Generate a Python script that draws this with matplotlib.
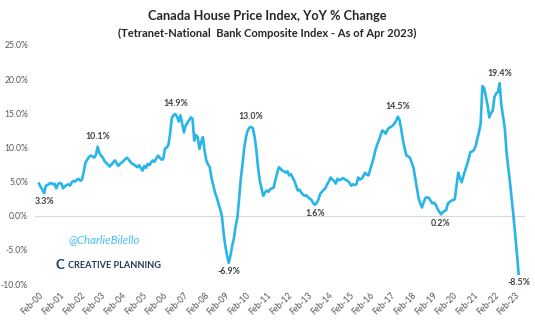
import matplotlib
matplotlib.use("Agg")
import matplotlib.pyplot as plt
import numpy as np

plt.rcParams['font.family'] = ['Lato', 'DejaVu Sans']

# Monthly YoY % change, Feb-2000 .. Apr-2023
yoy = [
    4.7, 4.2, 3.8, 3.3, 4.4, 4.5, 4.7, 4.8, 4.6, 4.7, 4.0, 4.6,          # Feb-00..Jan-01
    4.8, 4.7, 4.0, 4.3, 4.5, 4.6, 4.4, 4.9, 5.1, 5.0, 5.3, 5.4,          # Feb-01..
    5.1, 5.3, 6.5, 7.8, 8.2, 8.6, 8.8, 8.7, 8.5, 8.9, 10.1, 9.2,         # Feb-02..
    8.8, 8.5, 8.0, 7.7, 7.5, 7.2, 7.5, 7.8, 8.1, 7.7, 7.3, 7.6,          # Feb-03..
    7.8, 8.0, 8.3, 8.5, 8.2, 7.9, 7.6, 7.5, 7.3, 7.1, 7.4, 7.0,          # Feb-04..
    6.6, 7.3, 7.0, 7.6, 7.4, 7.8, 8.1, 7.9, 8.4, 8.8, 8.5, 8.2,          # Feb-05..
    8.3, 9.8, 10.0, 10.3, 12.0, 14.3, 14.7, 14.9, 14.5, 13.8, 14.7, 13.5,  # Feb-06..
    12.2, 13.2, 13.6, 14.0, 14.4, 14.2, 11.0, 11.8, 11.5, 9.8, 10.8, 11.5,  # Feb-07..
    9.5, 8.1, 7.5, 7.1, 5.5, 4.5, 3.4, 2.7, 1.8, 1.0, 0.0, -2.5,         # Feb-08..
    -4.4, -5.8, -6.9, -5.8, -4.4, -3.3, -1.5, -0.3, 2.5, 5.5, 7.6, 10.0,  # Feb-09..
    11.5, 12.5, 12.9, 13.0, 12.8, 11.5, 9.6, 7.0, 5.1, 4.0, 2.9, 3.4,    # Feb-10..
    3.7, 3.5, 3.9, 4.0, 4.1, 5.2, 6.2, 7.1, 6.9, 6.6, 6.5, 6.3,          # Feb-11..
    6.5, 5.9, 6.1, 5.6, 5.1, 4.4, 3.7, 3.8, 3.4, 3.1, 2.9, 3.0,          # Feb-12..
    2.7, 2.5, 2.3, 1.8, 1.6, 1.9, 2.4, 3.2, 3.5, 3.8, 4.0, 4.6,          # Feb-13..
    5.0, 5.6, 5.3, 5.1, 4.7, 5.4, 5.2, 5.3, 5.5, 5.4, 5.2, 5.1,          # Feb-14..
    4.8, 4.4, 4.6, 4.5, 4.6, 5.6, 5.3, 5.4, 5.8, 6.3, 6.0, 5.9,          # Feb-15..
    6.8, 7.6, 8.5, 9.6, 10.4, 11.0, 11.8, 12.5, 12.3, 12.0, 12.6, 12.9,  # Feb-16..
    13.0, 13.2, 13.5, 13.9, 14.5, 14.0, 12.6, 11.0, 9.8, 8.8, 8.7, 8.5,  # Feb-17..
    7.8, 7.1, 5.6, 4.1, 2.6, 1.8, 1.2, 2.0, 2.6, 2.7, 2.6, 2.2,          # Feb-18..
    1.8, 1.9, 1.6, 1.0, 0.6, 0.2, 0.5, 0.7, 0.8, 1.8, 2.0, 2.2,          # Feb-19..
    2.3, 2.4, 4.4, 6.3, 5.5, 4.9, 5.8, 6.6, 7.4, 8.3, 9.3, 9.4,          # Feb-20..
    9.6, 10.1, 11.2, 12.2, 13.5, 19.0, 18.7, 17.5, 16.2, 14.4, 15.0, 15.4,  # Feb-21..
    17.4, 17.9, 18.1, 19.4, 16.2, 14.5, 12.8, 9.3, 7.0, 4.9, 2.5, 0.0,   # Feb-22..
    -2.7, -5.5, -8.5,                                                    # Feb-23..Apr-23
]

tick_labels = ["Feb-%02d" % y for y in range(0, 24)]
y_ticks = [-10, -5, 0, 5, 10, 15, 20, 25]

# annotated points: (month index, text, position)
annotations = [
    (3, "3.3%", "below"),
    (34, "10.1%", "above"),
    (79, "14.9%", "above"),
    (110, "-6.9%", "below"),
    (123, "13.0%", "above"),
    (160, "1.6%", "below"),
    (208, "14.5%", "above"),
    (233, "0.2%", "below"),
    (267, "19.4%", "above"),
    (278, "-8.5%", "below"),
]

W, H = 535, 321
fig = plt.figure(figsize=(W / 100, H / 100), dpi=100)
ax = fig.add_axes([35 / W, 1 - 284 / H, 490 / W, (284 - 45) / H])

x = np.arange(len(yoy))
ax.plot(x, yoy, color="#29B5E8", lw=1.9, solid_joinstyle="round", zorder=3)
ax.axhline(0, color="#D9D9D9", lw=0.8, zorder=1)

ax.set_xlim(-2.3, 281.7)
ax.set_ylim(-10, 25)
ax.set_yticks(y_ticks)
ax.set_yticklabels(["%.1f%%" % v for v in y_ticks], fontsize=6.2, color="#595959")
ax.set_xticks(np.arange(0, 12 * len(tick_labels), 12))
ax.set_xticklabels(tick_labels, rotation=45, ha="right", rotation_mode="anchor",
                   fontsize=6.2, color="#595959")
ax.tick_params(length=0, pad=5)
for s in ax.spines.values():
    s.set_visible(False)

for m, txt, pos in annotations:
    v = yoy[m]
    if pos == "above":
        ax.annotate(txt, (m, v), xytext=(0, 4), textcoords="offset points",
                    ha="center", va="bottom", fontsize=6.3, fontweight="bold", color="#404040")
    else:
        ax.annotate(txt, (m, v), xytext=(0, -3), textcoords="offset points",
                    ha="center", va="top", fontsize=6.3, fontweight="bold", color="#404040")

fig.text(0.5, 1 - 16 / H, "Canada House Price Index, YoY % Change", ha="center", va="center",
         fontsize=9.2, fontweight="bold", color="#262626")
fig.text(0.5, 1 - 33 / H, "(Tetranet-National  Bank Composite Index - As of Apr 2023)",
         ha="center", va="center", fontsize=8, fontweight="bold", color="#262626")

fig.text(104 / W, 1 - 240 / H, "@CharlieBilello", ha="center", va="center",
         fontsize=8.3, style="italic", color="#45C0EE")
fig.text(60 / W, 1 - 265 / H, "C", ha="center", va="center", fontsize=9.5,
         fontweight="bold", color="#1F3A5F")
fig.text(68 / W, 1 - 265 / H, "CREATIVE PLANNING", ha="left", va="center",
         fontsize=6.6, fontweight="bold", color="#1F3A5F")

fig.savefig("out.png", dpi=100)
